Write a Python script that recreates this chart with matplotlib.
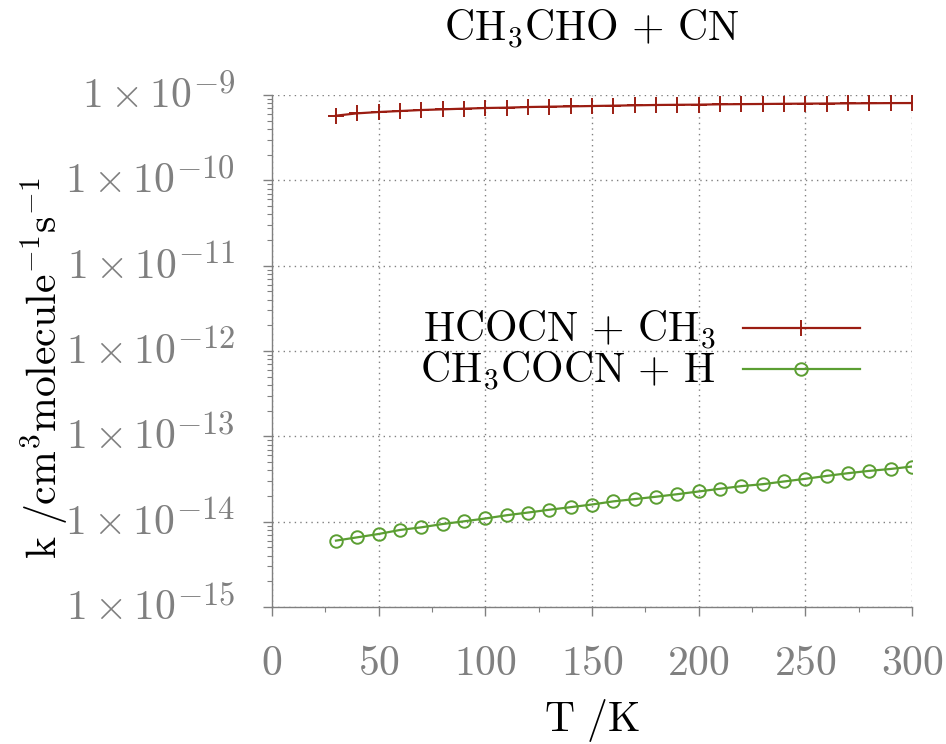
import math

import matplotlib
matplotlib.use("Agg")
import matplotlib.pyplot as plt
from matplotlib.ticker import FixedLocator, FuncFormatter, LogLocator, MultipleLocator, NullFormatter

# temperatures (K)
T = [30, 40, 50, 60, 70, 80, 90, 100, 110, 120, 130, 140, 150, 160,
     170, 180, 190, 200, 210, 220, 230, 240, 250, 260, 270, 280, 290, 300]

# HCOCN + CH3 (cm^3 molecule^-1 s^-1)
k_hcocn = [5.73e-10, 6.10e-10, 6.32e-10, 6.49e-10, 6.67e-10, 6.79e-10, 6.92e-10,
           7.04e-10, 7.11e-10, 7.23e-10, 7.30e-10, 7.36e-10, 7.43e-10, 7.50e-10,
           7.57e-10, 7.64e-10, 7.68e-10, 7.71e-10, 7.78e-10, 7.82e-10, 7.85e-10,
           7.89e-10, 7.92e-10, 7.95e-10, 7.98e-10, 8.01e-10, 8.04e-10, 8.05e-10]

# CH3COCN + H
k_ch3cocn = [6.00e-15, 6.56e-15, 7.18e-15, 8.00e-15, 8.59e-15, 9.39e-15, 1.01e-14,
             1.09e-14, 1.19e-14, 1.28e-14, 1.38e-14, 1.48e-14, 1.59e-14, 1.73e-14,
             1.84e-14, 1.96e-14, 2.10e-14, 2.26e-14, 2.43e-14, 2.61e-14, 2.75e-14,
             2.96e-14, 3.18e-14, 3.44e-14, 3.70e-14, 3.94e-14, 4.15e-14, 4.43e-14]

x_ticks = [0, 50, 100, 150, 200, 250, 300]
y_exps = [-15, -14, -13, -12, -11, -10, -9]

plt.rcParams["mathtext.fontset"] = "cm"
plt.rcParams["font.family"] = "serif"

GRAY = "#808080"
RED = "#9b1d12"
GREEN = "#5b9e32"
FS = 30
FS_EXP = 23.5

fig = plt.figure(figsize=(9.46, 7.44), dpi=100)
ax = fig.add_axes([0.2875, 0.1841, 0.6765, 0.6882])

ax.plot(T, k_hcocn, "-", marker="+", color=RED, lw=1.6, ms=11, mew=1.4,
        label=r"$\mathrm{HCOCN\,+\,CH_3}$")
ax.plot(T, k_ch3cocn, "-", marker="o", color=GREEN, lw=1.6, ms=9, mew=1.4,
        mfc="none", label=r"$\mathrm{CH_3COCN\,+\,H}$")

ax.set_yscale("log")
ax.set_xlim(0, 300)
ax.set_ylim(1e-15, 1e-9)

ax.xaxis.set_major_locator(FixedLocator(x_ticks))
ax.xaxis.set_minor_locator(MultipleLocator(25))
ax.xaxis.set_major_formatter(FuncFormatter(lambda v, p: r"$%d$" % v))
ax.yaxis.set_major_locator(FixedLocator([10.0 ** e for e in y_exps]))
ax.yaxis.set_minor_locator(LogLocator(base=10, subs=range(2, 10), numticks=20))
ax.yaxis.set_major_formatter(NullFormatter())
ax.yaxis.set_minor_formatter(NullFormatter())

for s in ("top", "right"):
    ax.spines[s].set_visible(False)
for s in ("left", "bottom"):
    ax.spines[s].set_color(GRAY)
    ax.spines[s].set_linewidth(1.0)

ax.tick_params(axis="both", which="major", direction="out", length=6.5,
               width=1.0, color=GRAY, labelcolor=GRAY, labelsize=FS)
ax.tick_params(axis="both", which="minor", direction="out", length=3.5,
               width=0.8, color=GRAY)
ax.tick_params(axis="x", which="major", pad=18.5)

ax.grid(True, which="major", color=GRAY, ls=(0, (1, 3)), lw=1.0)
ax.set_axisbelow(True)

# y tick labels "1 x 10^e" built by hand so the exponent can be drawn larger
W, H = fig.get_size_inches() * fig.dpi
renderer = fig.canvas.get_renderer()
x_right = ax.transAxes.transform((0, 0))[0] - 37
for e in y_exps:
    y_tick = ax.transData.transform((1, 10.0 ** e))[1]
    t_exp = fig.text(x_right / W, (y_tick + 3) / H, r"$-%d$" % (-e), ha="right",
                     va="baseline", fontsize=FS_EXP, color=GRAY)
    bb = t_exp.get_window_extent(renderer)
    fig.text((bb.x0 - 1) / W, (y_tick - 12) / H, r"$1 \times 10$", ha="right",
             va="baseline", fontsize=FS, color=GRAY)

leg = ax.legend(loc="center", bbox_to_anchor=(0.575, 0.5), frameon=False,
                fontsize=FS, markerfirst=False, handlelength=2.8,
                handletextpad=0.65, labelspacing=-0.05, borderpad=0)
for t in leg.get_texts():
    t.set_ha("right")

fig.text(0.626, 0.96, r"$\mathrm{CH_3CHO\,+\,CN}$", ha="center", va="center",
         fontsize=FS)
fig.text(0.626, 0.032, r"$\mathrm{T\ /K}$", ha="center", va="center",
         fontsize=FS)
fig.text(0.047, 0.505, r"$\mathrm{k\ /cm^3molecule^{-1}s^{-1}}$", ha="center",
         va="center", rotation=90, fontsize=FS)

fig.savefig("out.png", dpi=100)
